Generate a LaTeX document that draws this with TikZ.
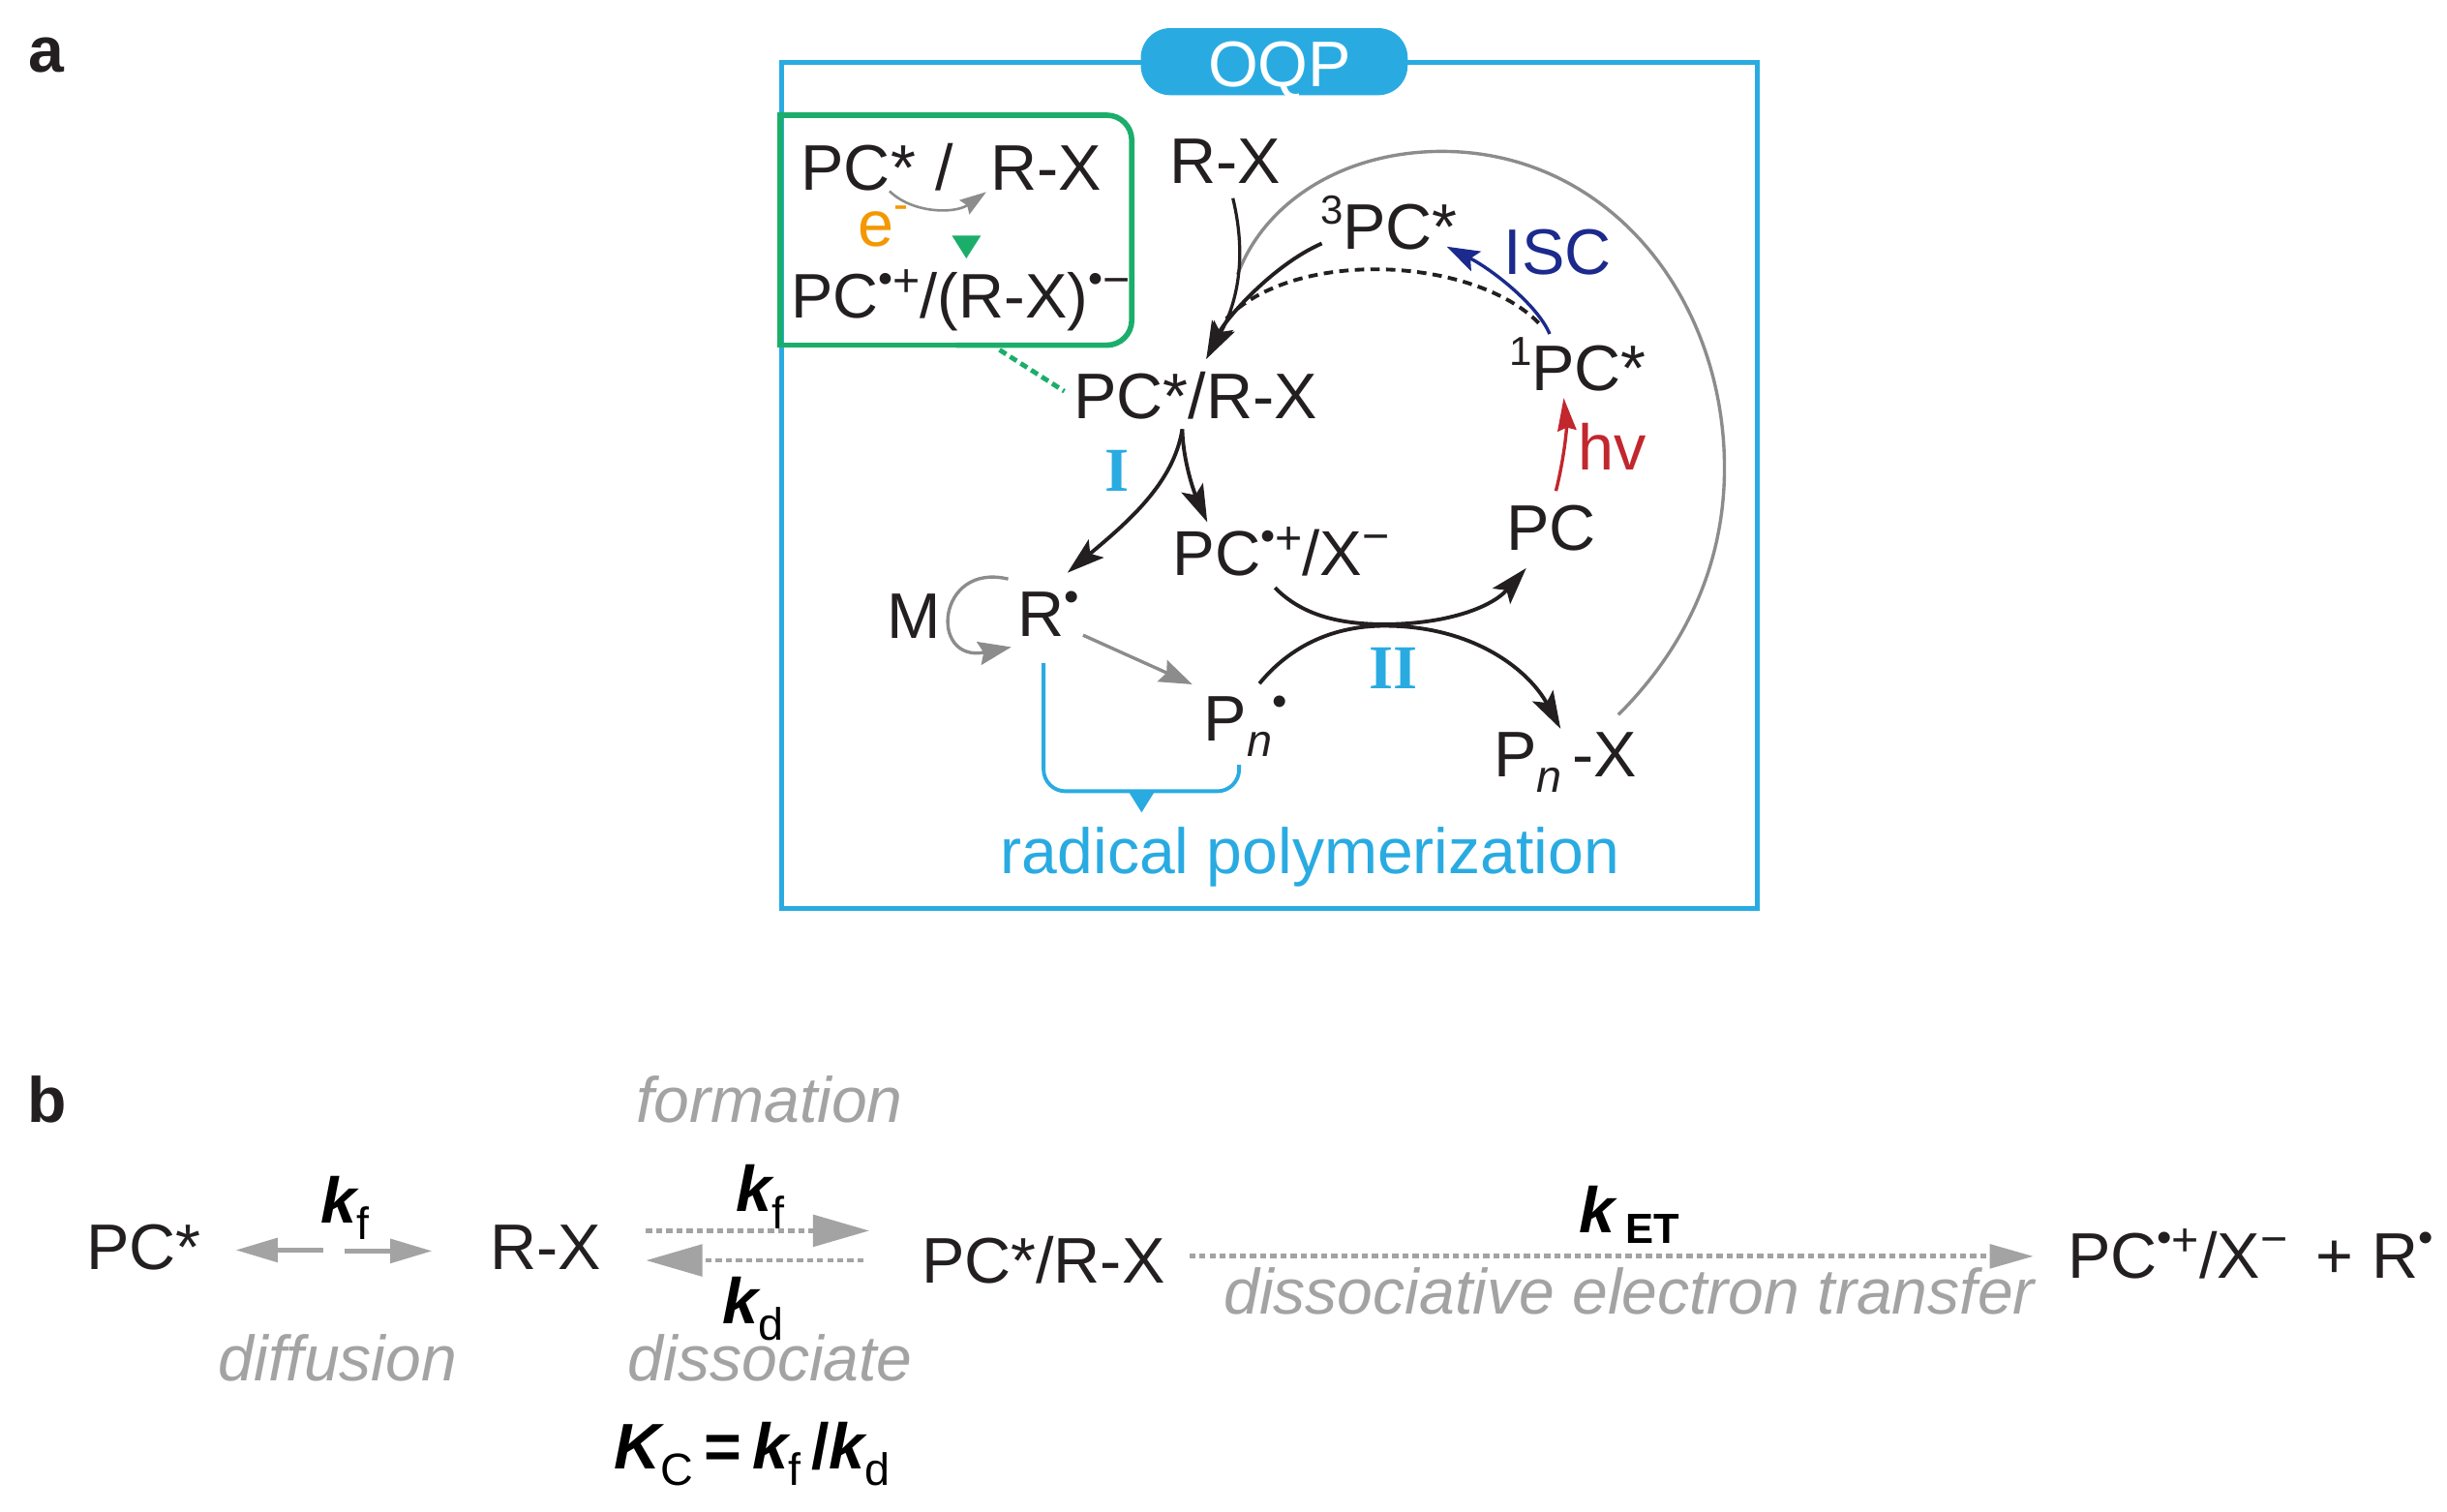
\documentclass[tikz,border=0pt]{standalone}
\usepackage{graphicx}
\usepackage{fontspec}
\setmainfont{Liberation Sans}
\newfontfamily\serifnum{Liberation Serif}
\usetikzlibrary{arrows.meta}
\definecolor{oqpblue}{HTML}{29ABE2}
\definecolor{boxgreen}{HTML}{1BAE6B}
\definecolor{eorange}{HTML}{F39800}
\definecolor{iscblue}{HTML}{1B2A8C}
\definecolor{hvred}{HTML}{C1272D}
\definecolor{softgray}{HTML}{A3A3A3}
\definecolor{arcgray}{HTML}{8C8C8C}
\definecolor{inkblack}{HTML}{231F20}
\newcommand\radmark{\raisebox{.40em}{\scalebox{.66}{•}}}
\newcommand\plusmark{\raisebox{.34em}{\fontsize{30}{30}\selectfont +}}
\newcommand\minusmark{\raisebox{.36em}{\fontsize{30}{30}\selectfont −}}
\newcommand\subn{\raisebox{-.24em}{\fontsize{29}{29}\selectfont\itshape n}}
\newcommand\kk[1]{{\bfseries\itshape k}\raisebox{-.26em}{\fontsize{29}{29}\selectfont\mdseries\upshape #1}}
\tikzset{
  lbl/.style={inner sep=0pt,anchor=base,text=inkblack,font=\fontsize{41.3}{48}\selectfont},
  grayital/.style={lbl,text=softgray,font=\fontsize{41}{48}\selectfont\itshape},
  blacktip/.style={-{Stealth[length=24pt,width=15pt,inset=5pt]},inkblack,line width=2.4pt},
  graytip/.style={-{Stealth[length=21pt,width=15pt,inset=3pt]},arcgray,line width=2.1pt},
  dotline/.style={softgray,line width=3pt,dash pattern=on 4pt off 2.5pt}
}
\begin{document}
\begin{tikzpicture}[x=1pt,y=-1pt]
\useasboundingbox (0,0) rectangle (1568,968.3);
\fill[white] (0,0) rectangle (1568,968.3);
% panel letters
\node[lbl,font=\fontsize{41}{48}\selectfont\bfseries] (la) at (30,46) {a};
\node[lbl,font=\fontsize{41}{48}\selectfont\bfseries] (lb) at (30,719) {b};
% OQP frame
\draw[oqpblue,line width=3.2pt] (501,40) rectangle (1126,582);
\node[fill=oqpblue,rounded corners=19pt,minimum width=171pt,minimum height=43pt,inner sep=0pt] (oqp) at (816.5,39.5) {};
\node[lbl,text=white] (oqptext) at (820,55.4) {OQP};
% green box
\node[inner sep=0pt,minimum width=225pt,minimum height=147pt] (gbox) at (612.5,147.5) {};
\draw[boxgreen,line width=3.5pt,rounded corners=16pt]
  (gbox.north) -- (gbox.north east) -- (gbox.south east) -- (gbox.south);
\draw[boxgreen,line width=3.5pt] (gbox.north) -- (gbox.north west) -- (gbox.south west) -- (gbox.south);
\node[lbl] (gpc) at (550,122) {PC*};
\node[lbl] (gsl) at (605,122) {/};
\node[lbl] (grx) at (670.5,122) {R-X};
\node[lbl,text=eorange] (eminus) at (566,158) {e\raisebox{.42em}{\fontsize{28}{28}\selectfont -}};
\node[lbl,font=\fontsize{40.3}{48}\selectfont] (grad) at (615.5,204) {PC\radmark\plusmark/(R-X)\radmark\minusmark};
\draw[-{Stealth[length=17pt,width=11pt,inset=2pt]},arcgray,line width=1.6pt]
  ([shift={(20,0.5)}]gpc.base) .. controls (585,137) and (612,137) .. ([shift={(-38.5,1)}]grx.base);
\fill[boxgreen] (610,151) -- (628.5,151) -- (619.2,165.6) -- cycle;
% main nodes
\node[lbl] (rx) at (785,117.5) {R-X};
\node[lbl] (tpc) at (890,159.5) {\raisebox{.38em}{\fontsize{26}{26}\selectfont 3}PC*};
\node[lbl,text=iscblue] (isc) at (998,176) {ISC};
\node[lbl] (spc) at (1011,250) {\raisebox{.38em}{\fontsize{26}{26}\selectfont 1}PC*};
\node[lbl] (pcrx) at (766,268) {PC*/R-X};
\node[lbl,text=hvred] (hv) at (1033,301) {hv};
\node[lbl] (pc) at (994,352.6) {PC};
\node[lbl,font=\fontsize{40.6}{48}\selectfont] (pcx) at (821,368.6) {PC\radmark\plusmark/X\minusmark};
\node[lbl] (m) at (585.5,409) {M};
\node[lbl] (r) at (672,408) {R\radmark};
\node[lbl] (pn) at (798,475) {P\subn\radmark};
\node[lbl] (pnx) at (1003,498) {P\subn\,-X};
\node[lbl,text=oqpblue,font=\fontsize{40}{48}\selectfont\serifnum\bfseries] (one) at (716,314.5) {I};
\node[lbl,text=oqpblue,font=\fontsize{40}{48}\selectfont\serifnum\bfseries] (two) at (893,441) {II};
\node[lbl,text=oqpblue,font=\fontsize{41}{48}\selectfont] (radpol) at (839.5,559.5) {radical polymerization};
% connectors
\draw[boxgreen,line width=3pt,dash pattern=on 5pt off 3pt] (gbox.south) ++(28,3) -- ([shift={(-84,-17.3)}]pcrx.base);
\draw[arcgray,line width=2.1pt]
  ([shift={(34,-40)}]pnx.base) .. controls (1085,410) and (1105,355) .. (1105,300)
  .. controls (1105,190) and (1030,97) .. (924,97)
  .. controls (860,97) and (810,130) .. (793,176);
\draw[inkblack,line width=2.4pt,dash pattern=on 6pt off 4pt]
  ([shift={(-25,-43)}]spc.base) .. controls (945,165) and (830,158) .. ([shift={(19,-63)}]pcrx.base);
\draw[blacktip,line width=2pt]
  ([shift={(5,9.5)}]rx.base) .. controls (798,160) and (795,190) .. ([shift={(7,-38)}]pcrx.base);
\draw[blacktip]
  ([shift={(-43,-3.5)}]tpc.base) .. controls (815,170) and (785,205) .. ([shift={(7,-38)}]pcrx.base);
\draw[-{Stealth[length=21pt,width=14pt,inset=4pt]},iscblue,line width=2.1pt]
  ([shift={(-18,-36)}]spc.base) .. controls (985,195) and (955,172) .. ([shift={(37,-1.5)}]tpc.base);
\draw[-{Stealth[length=21pt,width=12pt,inset=2pt]},hvred,line width=2.1pt]
  ([shift={(3,-38)}]pc.base) .. controls (1002,295) and (1004,275) .. ([shift={(-9,5)}]spc.base);
\draw[blacktip]
  ([shift={(-8.4,7)}]pcrx.base) .. controls (752,310) and (722,335) .. ([shift={(12,-41)}]r.base);
\draw[blacktip]
  ([shift={(-8.4,7)}]pcrx.base) .. controls (758,295) and (765,315) .. ([shift={(-47.4,-34)}]pcx.base);
\draw[graytip]
  ([shift={(-26,-37)}]r.base) .. controls (600,360) and (595,425) .. ([shift={(-24,6.6)}]r.base);
\draw[graytip] ([shift={(22,-1)}]r.base) -- ([shift={(-34,-36.5)}]pn.base);
\draw[blacktip]
  ([shift={(-4,8)}]pcx.base) .. controls (835,395) and (860,400) .. (887,400)
  .. controls (925,400) and (955,390) .. ([shift={(-16,11.4)}]pc.base);
\draw[blacktip]
  ([shift={(9,-37)}]pn.base) .. controls (830,410) and (860,401) .. (887,401)
  .. controls (945,401) and (980,430) .. ([shift={(-3,-31)}]pnx.base);
\draw[oqpblue,line width=2.4pt,rounded corners=14pt]
  ([shift={(-3.3,17)}]r.base) -- (668.7,507) -- (794,507) -- ([shift={(-4,15)}]pn.base);
\fill[oqpblue] (723,507) -- (740,507) -- (731.5,520.6) -- cycle;
% panel b
\node[lbl] (bpc) at (92,813.6) {PC*};
\node[lbl] (brx) at (349.7,813.6) {R-X};
\node[lbl] (bpcrx) at (668.5,822) {PC*/R-X};
\node[lbl] (bprod) at (1442,819) {PC\radmark\plusmark/X\minusmark\ \,+ R\radmark};
\node[grayital] (form) at (493,719) {formation};
\node[grayital] (diff) at (216.5,885) {diffusion};
\node[grayital] (diss) at (493.6,885) {dissociate};
\node[grayital] (det) at (1044,842) {dissociative electron transfer};
\node[lbl,text=black] (kf1) at (221,783.7) {\kk{f}};
\node[lbl,text=black] (kf2) at (487,776.5) {\kk{f}};
\node[lbl,text=black] (kd) at (482.6,848) {\kk{d}};
\node[lbl,text=black] (ket) at (1044,790) {{\bfseries\itshape k}\,\raisebox{-.16em}{\fontsize{27}{27}\selectfont\bfseries ET}};
\node[lbl,text=black] (kc) at (482,941) {{\bfseries\itshape K}\raisebox{-.26em}{\fontsize{29}{29}\selectfont C}\,{\bfseries =}\,\kk{f}\,{\bfseries /}\kk{d}};
\draw[-{Triangle[length=27pt,width=15pt]},softgray,line width=3.3pt]
  ([shift={(-142.7,-12.6)}]brx.base) -- ([shift={(59,-12.6)}]bpc.base);
\draw[-{Triangle[length=27pt,width=15pt]},softgray,line width=3.3pt]
  ([shift={(129,-12)}]bpc.base) -- ([shift={(-72.7,-12)}]brx.base);
\draw[dotline,-{Triangle[length=36pt,width=20pt]}]
  ([shift={(64.3,-25)}]brx.base) -- ([shift={(-111.5,-33.4)}]bpcrx.base);
\draw[dotline,-{Triangle[length=36pt,width=20pt]}]
  ([shift={(-115,-14.4)}]bpcrx.base) -- ([shift={(64.3,-6)}]brx.base);
\draw[dotline,-{Triangle[length=28pt,width=15pt]}]
  ([shift={(93.5,-17)}]bpcrx.base) -- ([shift={(-139,-14)}]bprod.base);
\end{tikzpicture}
\end{document}
